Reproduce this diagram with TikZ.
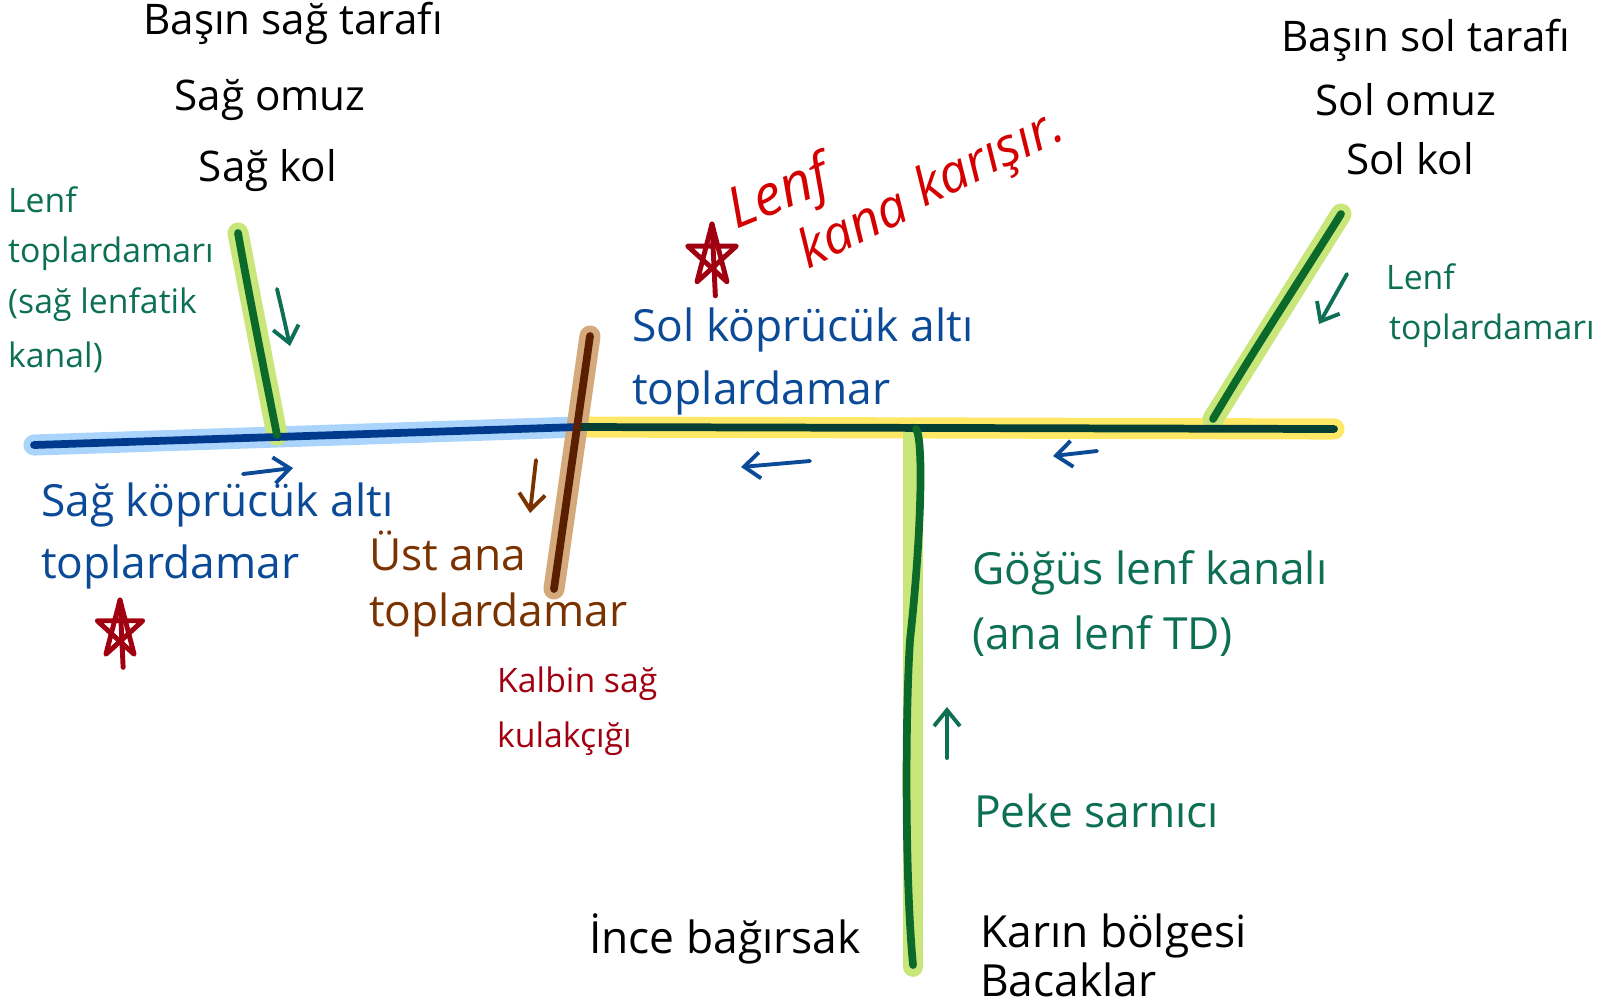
\documentclass[tikz,border=0pt]{standalone}
\usepackage{fontspec}
\setmainfont{Open Sans}
\usetikzlibrary{arrows.meta}
\definecolor{lenfyesil}{HTML}{0D7055}
\definecolor{koyumavi}{HTML}{0B4A96}
\definecolor{kahve}{HTML}{7A3300}
\definecolor{bordo}{HTML}{A00010}
\definecolor{kirmizi}{HTML}{D40000}
\definecolor{maviacik}{HTML}{AAD4FB}
\definecolor{mavikoyu}{HTML}{003A8C}
\definecolor{sari}{HTML}{FFE866}
\definecolor{kavsakkoyu}{HTML}{043F34}
\definecolor{yesilacik}{HTML}{C8E67A}
\definecolor{yesilkoyu}{HTML}{0B6A2A}
\definecolor{tencere}{HTML}{D4AA7D}
\definecolor{kahvekoyu}{HTML}{5A1E00}
\begin{document}
\begin{tikzpicture}[x=0.01cm,y=-0.01cm,
  yazi/.style={font=\fontsize{12}{14}\selectfont,inner sep=1pt},
  buyuk/.style={font=\fontsize{12.6}{15}\selectfont,inner sep=1pt},
  kucuk/.style={font=\fontsize{9.6}{12}\selectfont,inner sep=1pt},
  elyazi/.style={kirmizi,font=\fontsize{15}{17}\selectfont\itshape,inner sep=1pt},
  vurgu/.style={line width=6pt,line cap=round},
  damar/.style={line width=2.2pt,line cap=round},
  ok/.style={line width=1.1pt,line cap=round,-{Straight Barb[length=1.6mm,width=2.6mm]}}]
\useasboundingbox (0,0) rectangle (1618,1005);
\newcommand\yildiz[2]{
\begin{scope}[shift={#1},xscale=0.8]
\draw[bordo,line width=1.4pt,line join=round,line cap=round] (-90:#2) -- (54:#2) -- (198:#2) -- (-18:#2) -- (126:#2) -- cycle;
\draw[bordo,line width=1.4pt,line cap=round] (-90:#2) -- (84:1.25*#2);
\end{scope}
}
% damarlarin uclari
\coordinate (sagucu) at (34,445);
\coordinate (kavsak) at (578,427);
\coordinate (solucu) at (1334,429);
\coordinate (sagkanalust) at (238,233);
\coordinate (sagkanalalt) at (277,435);
\coordinate (vcsust) at (590,336);
\coordinate (vcsalt) at (554,589);
\coordinate (solkanalust) at (1341,214);
\coordinate (solkanalalt) at (1213,419);
\coordinate (gogusust) at (916,429);
\coordinate (gogusalt) at (913,965);
% vurgular
\draw[vurgu,maviacik] (sagucu) -- (kavsak);
\draw[vurgu,sari] (kavsak) -- (solucu);
\draw[vurgu,yesilacik] (sagkanalust) -- (sagkanalalt);
\draw[vurgu,yesilacik] (solkanalust) -- (solkanalalt);
\draw[vurgu,yesilacik,line width=5.6pt] ([shift={(-3,4)}]gogusust) -- ([shift={(0,2)}]gogusalt);
\draw[vurgu,tencere] (vcsust) -- (vcsalt);
% damarlar
\draw[damar,mavikoyu] (sagucu) -- (kavsak);
\draw[damar,kavsakkoyu] (kavsak) -- (solucu);
\draw[damar,yesilkoyu] (sagkanalust) .. controls (250,300) and (262,360) .. (sagkanalalt);
\draw[damar,yesilkoyu] (solkanalust) .. controls (1300,280) and (1260,340) .. (solkanalalt);
\draw[damar,yesilkoyu] (gogusust) .. controls (924,440) and (921,540) .. (910,640) .. controls (905,720) and (905,880) .. (gogusalt);
\draw[damar,kahvekoyu] (vcsust) -- (vcsalt);
% oklar
\draw[ok,lenfyesil] (277,289) .. controls (282,310) .. (290,346);
\draw[ok,lenfyesil] (1347,274) -- (1319,324);
\draw[ok,lenfyesil] (947,758) -- (947,707);
\draw[ok,koyumavi] (243,474) -- (293,468);
\draw[ok,koyumavi] (810,461) -- (741,467);
\draw[ok,koyumavi] (1097,451) -- (1053,456);
\draw[ok,kahve] (536,460) -- (530,513);
% siyah yazilar
\node[yazi] (bassag) at (293,23) {Başın sağ tarafı};
\node[yazi] (omuzsag) at (270,100) {Sağ omuz};
\node[yazi] (kolsag) at (268,171) {Sağ kol};
\node[yazi] (bassol) at (1426,40) {Başın sol tarafı};
\node[yazi] (omuzsol) at (1406,100) {Sol omuz};
\node[yazi] (kolsol) at (1410,159) {Sol kol};
\node[buyuk] (ince) at (725,939) {İnce bağırsak};
\node[buyuk,anchor=west] (karin) at (976,936) {Karın bölgesi};
\node[buyuk,anchor=west] (bacak) at (976,980) {Bacaklar};
% lenf yazilari
\node[kucuk,lenfyesil,anchor=west] (lenf1a) at (4,200) {Lenf};
\node[kucuk,lenfyesil,anchor=west] (lenf1b) at (4,254) {toplardamarı};
\node[kucuk,lenfyesil,anchor=west] (lenf1c) at (4,305) {(sağ lenfatik};
\node[kucuk,lenfyesil,anchor=west] (lenf1d) at (4,357) {kanal)};
\node[kucuk,lenfyesil,anchor=west] (lenf2a) at (1382,277) {Lenf};
\node[kucuk,lenfyesil,anchor=west] (lenf2b) at (1385,331) {toplardamarı};
\node[buyuk,lenfyesil,anchor=west] (gogus1) at (968,573) {Göğüs lenf kanalı};
\node[buyuk,lenfyesil,anchor=west] (gogus2) at (968,636) {(ana lenf TD)};
\node[buyuk,lenfyesil,anchor=west] (peke) at (970,811) {Peke sarnıcı};
% toplardamar yazilari
\node[buyuk,koyumavi,anchor=west] (solkop1) at (628,330) {Sol köprücük altı};
\node[buyuk,koyumavi,anchor=west] (solkop2) at (628,393) {toplardamar};
\node[buyuk,koyumavi,anchor=west] (sagkop1) at (37,505) {Sağ köprücük altı};
\node[buyuk,koyumavi,anchor=west] (sagkop2) at (37,567) {toplardamar};
\node[buyuk,kahve,anchor=west] (ust1) at (365,551) {Üst ana};
\node[buyuk,kahve,anchor=west] (ust2) at (365,615) {toplardamar};
\node[kucuk,bordo,anchor=west] (kalp1) at (493,684) {Kalbin sağ};
\node[kucuk,bordo,anchor=west] (kalp2) at (493,739) {kulakçığı};
% el yazisi notlar
\node[elyazi,rotate=22,font=\fontsize{16}{18}\selectfont\itshape] (not1) at (780,196) {Lenf};
\node[elyazi,rotate=26] (not2) at (852,226) {kana};
\node[elyazi,rotate=26] (not3) at (990,160) {karışır.};
\yildiz{(712,256)}{32}
\yildiz{(120,630)}{30}
\end{tikzpicture}
\end{document}
